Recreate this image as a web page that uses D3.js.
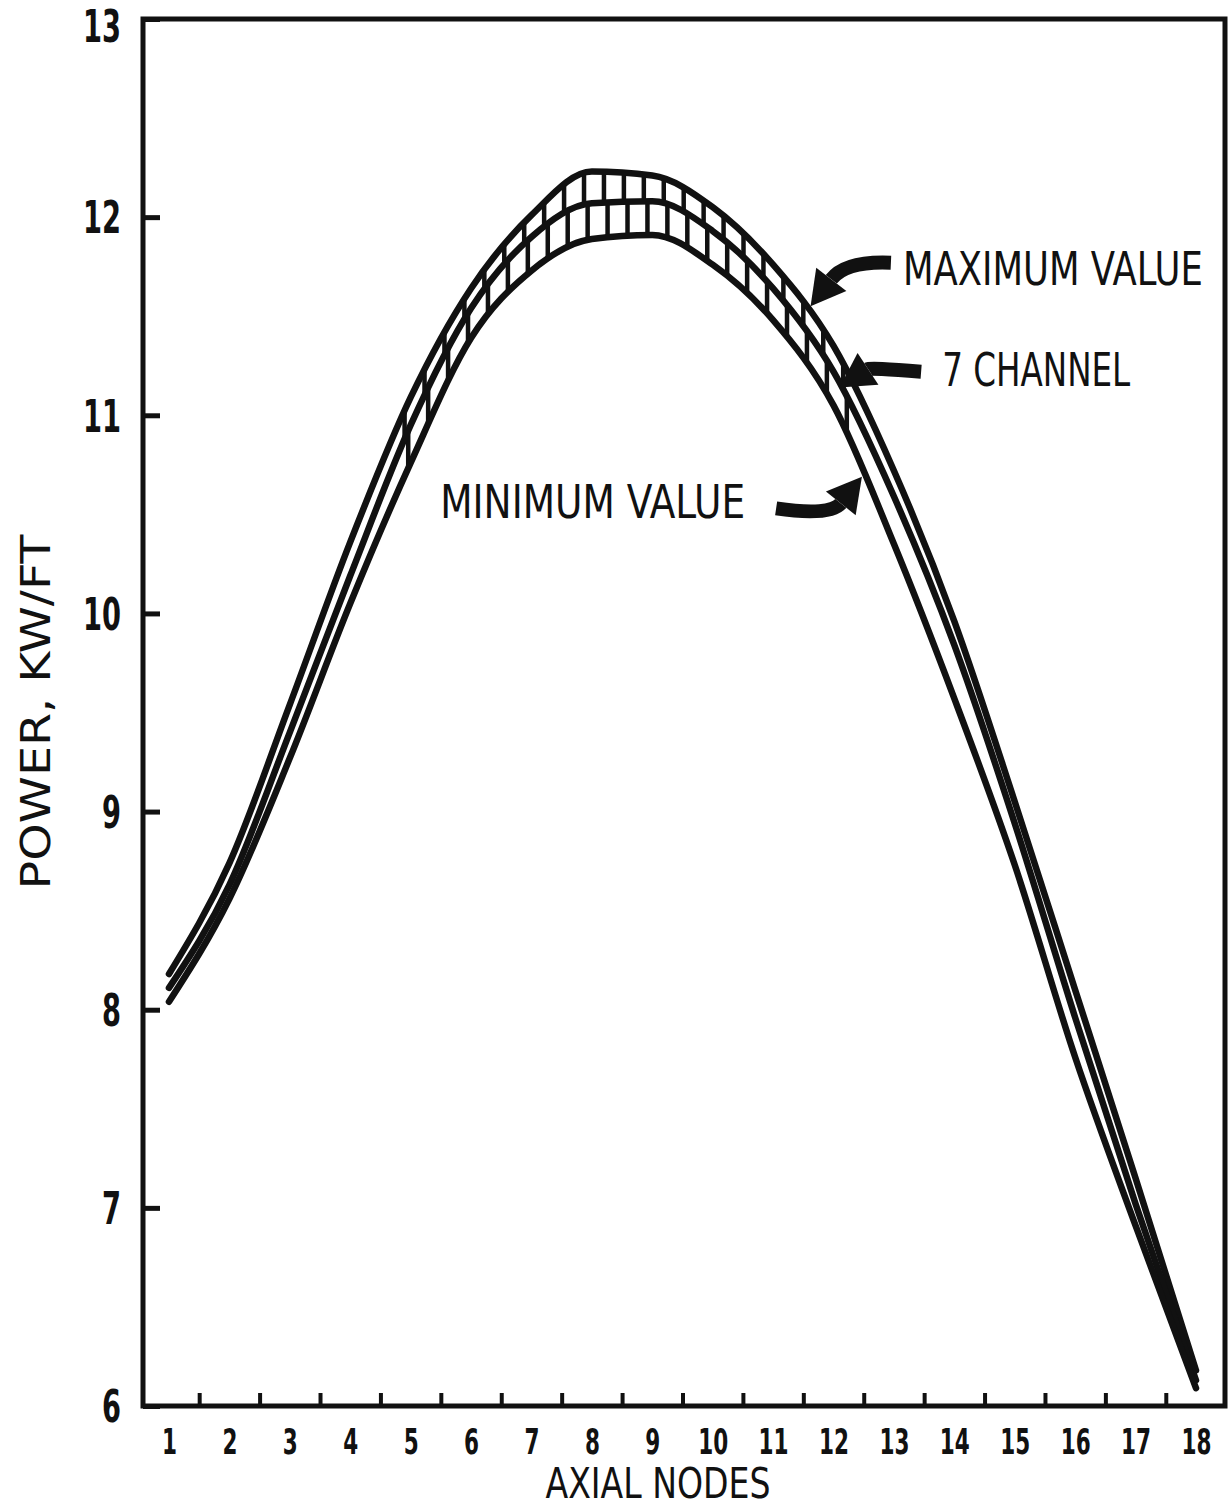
<!DOCTYPE html>
<meta charset="utf-8">
<script src="https://d3js.org/d3.v7.min.js"></script>
<style>
  body { margin: 0; background: #fff; }
  text { font-family: "DejaVu Sans Condensed", "Liberation Sans Narrow", "DejaVu Sans", sans-serif; fill: #111; font-weight: bold; }
</style>
<div id="chart"></div>
<script>

// axial node numbers and power (kW/ft)
var nodes = [1, 2, 3, 4, 5, 6, 7, 8, 9, 10, 11, 12, 13, 14, 15, 16, 17, 18];
var maxValue = [8.18, 8.74, 9.54, 10.36, 11.09, 11.64, 12.01, 12.23, 12.21, 12.05, 11.76, 11.35, 10.72, 9.96, 9.05, 8.10, 7.15, 6.18];
var channel7 = [8.11, 8.63, 9.40, 10.19, 10.95, 11.54, 11.90, 12.07, 12.08, 11.93, 11.64, 11.22, 10.59, 9.84, 8.94, 7.96, 7.02, 6.13];
var minValue = [8.04, 8.56, 9.27, 10.05, 10.76, 11.39, 11.73, 11.89, 11.91, 11.76, 11.48, 11.05, 10.35, 9.57, 8.73, 7.76, 6.91, 6.09];

var yTicks = [6, 7, 8, 9, 10, 11, 12, 13];
var xTicks = nodes;
var halfTicks = [1.5, 2.5, 3.5, 4.5, 5.5, 6.5, 7.5, 8.5, 9.5, 10.5, 11.5, 12.5, 13.5, 14.5, 15.5, 16.5, 17.5];

var W = 1228, H = 1507;
var margin = {top: 19, right: 3, bottom: 101, left: 143},
    width = W - margin.left - margin.right,
    height = H - margin.top - margin.bottom;

var svg = d3.select("#chart").append("svg")
    .attr("width", W)
    .attr("height", H);

var g = svg.append("g")
    .attr("transform", "translate(" + margin.left + "," + margin.top + ")");

var x = d3.scaleLinear().domain([0.57, 18.48]).range([0, width]);
var y = d3.scaleLinear().domain([6, 13]).range([height, 0]);

// squeeze a text horizontally to a given width (the lettering is very narrow)
function squeeze(sel, px, py, len, rot) {
  var w = sel.node().getComputedTextLength();
  sel.attr("transform", "translate(" + px + "," + py + ")" + (rot ? " rotate(" + rot + ")" : "") + " scale(" + (len / w) + ",1)");
}

// frame
g.append("rect")
    .attr("width", width)
    .attr("height", height)
    .attr("fill", "none")
    .attr("stroke", "#111")
    .attr("stroke-width", 5);

// y axis: inward ticks, labels on the left
var yAxis = g.append("g")
    .call(d3.axisLeft(y).tickValues(yTicks).tickSize(-17).tickPadding(22).tickFormat(d3.format("d")));
yAxis.select(".domain").remove();
yAxis.selectAll("line").attr("stroke", "#111").attr("stroke-width", 5);
yAxis.selectAll("text")
    .style("font-size", "44px")
    .attr("dy", "0.36em")
    .attr("textLength", function(d) { return String(d).length * 19; })
    .attr("lengthAdjust", "spacingAndGlyphs");
yAxis.selectAll(".tick").filter(function(d) { return d == 13; }).select("text").attr("dy", "0.5em");

// x axis: labels at nodes, little inward ticks between them
var xLab = g.append("g")
    .attr("transform", "translate(0," + height + ")")
    .call(d3.axisBottom(x).tickValues(xTicks).tickSize(0).tickPadding(22));
xLab.select(".domain").remove();
xLab.selectAll("text")
    .style("font-size", "36px")
    .attr("textLength", function(d) { return String(d).length * 15; })
    .attr("lengthAdjust", "spacingAndGlyphs");

var xTk = g.append("g")
    .attr("transform", "translate(0," + height + ")")
    .call(d3.axisBottom(x).tickValues(halfTicks).tickSize(-13).tickFormat(""));
xTk.select(".domain").remove();
xTk.selectAll("line").attr("stroke", "#111").attr("stroke-width", 4);

// axis titles
var xTitle = svg.append("text")
    .attr("text-anchor", "middle")
    .style("font-size", "42px")
    .style("font-weight", "normal")
    .text("AXIAL NODES");
squeeze(xTitle, 658, 1498, 225);

var yTitle = svg.append("text")
    .attr("text-anchor", "middle")
    .style("font-size", "41px")
    .style("font-weight", "normal")
    .text("POWER, KW/FT");
squeeze(yTitle, 50, 712, 355, -90);

// curves
var curve = d3.curveMonotoneX;
function lineOf(vals) {
  return d3.line()
    .x(function(d, i) { return x(nodes[i]); })
    .y(function(d) { return y(d); })
    .curve(curve)(vals);
}
function bandOf(hi, lo) {
  return d3.area()
    .x(function(d, i) { return x(nodes[i]); })
    .y0(function(d, i) { return y(lo[i]); })
    .y1(function(d) { return y(d); })
    .curve(curve)(hi);
}

// hatching between the curves, clipped to each band
var defs = svg.append("defs");
defs.append("clipPath").attr("id", "bandTop").append("path").attr("d", bandOf(maxValue, channel7));
defs.append("clipPath").attr("id", "bandBot").append("path").attr("d", bandOf(channel7, minValue));

var hatchTop = d3.range(4.9, 12.35, 0.33);
var hatchBot = hatchTop.map(function(d) { return d + 0.06; });

g.append("g").attr("clip-path", "url(#bandTop)")
  .selectAll("line").data(hatchTop).enter().append("line")
    .attr("x1", function(d) { return x(d); })
    .attr("x2", function(d) { return x(d); })
    .attr("y1", y(13)).attr("y2", y(6))
    .attr("stroke", "#111").attr("stroke-width", 4.5);

g.append("g").attr("clip-path", "url(#bandBot)")
  .selectAll("line").data(hatchBot).enter().append("line")
    .attr("x1", function(d) { return x(d); })
    .attr("x2", function(d) { return x(d); })
    .attr("y1", y(13)).attr("y2", y(6))
    .attr("stroke", "#111").attr("stroke-width", 4.5);

[maxValue, channel7, minValue].forEach(function(s) {
  g.append("path")
    .attr("d", lineOf(s))
    .attr("fill", "none")
    .attr("stroke", "#111")
    .attr("stroke-width", 6.5)
    .attr("stroke-linecap", "round")
    .attr("stroke-linejoin", "round");
});

// labels with curved arrows (positions in data units)
var notes = [
  {text: "MAXIMUM VALUE", at: [13.15, 11.66], len: 300, tail: [12.95, 11.77], ctrl: [12.2, 11.78], tip: [11.62, 11.55]},
  {text: "7 CHANNEL",     at: [13.80, 11.15], len: 188, tail: [13.45, 11.22], ctrl: [12.6, 11.24], tip: [12.1, 11.14]},
  {text: "MINIMUM VALUE", at: [5.49, 10.48],  len: 305, tail: [11.05, 10.53], ctrl: [11.95, 10.49], tip: [12.47, 10.69]}
];

notes.forEach(function(n) {
  var t0 = g.append("text")
    .style("font-size", "46px")
    .style("font-weight", "normal")
    .text(n.text);
  squeeze(t0, x(n.at[0]), y(n.at[1]), n.len);

  var t = [x(n.tail[0]), y(n.tail[1])],
      c = [x(n.ctrl[0]), y(n.ctrl[1])],
      p = [x(n.tip[0]), y(n.tip[1])];
  var dx = p[0] - c[0], dy = p[1] - c[1], L = Math.sqrt(dx * dx + dy * dy);
  var ux = dx / L, uy = dy / L, hl = 34, hw = 19;
  var b = [p[0] - ux * hl, p[1] - uy * hl];

  g.append("path")
    .attr("d", "M" + t + "Q" + c + " " + b)
    .attr("fill", "none")
    .attr("stroke", "#111")
    .attr("stroke-width", 14);

  g.append("path")
    .attr("d", "M" + p + "L" + [b[0] - uy * hw, b[1] + ux * hw] + "L" + [b[0] + uy * hw, b[1] - ux * hw] + "Z")
    .attr("fill", "#111");
});

</script>
